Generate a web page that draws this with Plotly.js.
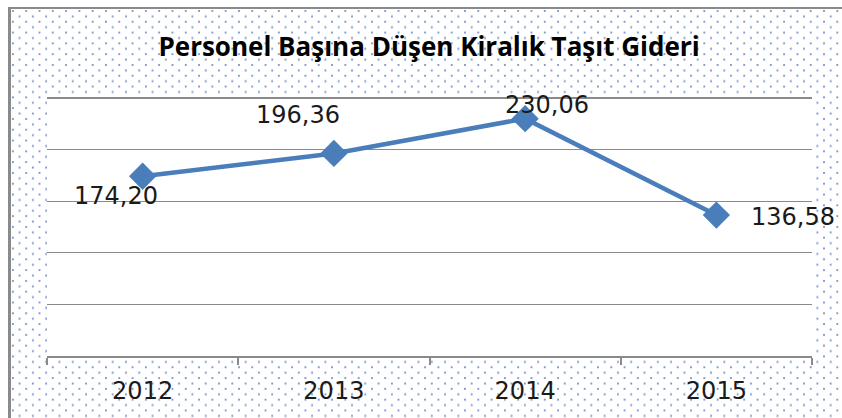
<!DOCTYPE html>
<html>
<head>
<meta charset="utf-8">
<script src="https://cdn.plot.ly/plotly-3.0.1.min.js"></script>
<style>
  html, body { margin: 0; padding: 0; width: 842px; height: 418px; background: #ffffff; overflow: hidden; }
  #frame {
    position: absolute; left: 8px; top: 7px; width: 834px; height: 411px;
    box-sizing: border-box;
    border-left: 3px solid #8a8a8a; border-top: 2px solid #8a8a8a;
    background-color: #ffffff;
    background-image:
      radial-gradient(circle at 2px 2px, #7f9fd0 0.8px, rgba(255,255,255,0) 1.4px),
      radial-gradient(circle at 8.6px 7.4px, #7f9fd0 0.8px, rgba(255,255,255,0) 1.4px);
    background-size: 13.3px 10.8px;
  }
  #chart { position: absolute; left: 0; top: 0; width: 842px; height: 418px; }
</style>
</head>
<body>
<div id="frame"></div>
<div id="chart"></div>
<script>
const titleText = 'Personel Başına Düşen Kiralık Taşıt Gideri';
const years = ['2012', '2013', '2014', '2015'];
const values = [174.20, 196.36, 230.06, 136.58];
const labelXShift = [-27, -36, 22, 77];
const labelYShift = [-20, 38, 14, -2];

const lineColor = '#4A7EBB';
const numFont = 'DejaVu Sans, Verdana, sans-serif';

function fmt(v) { return v.toFixed(2).replace('.', ','); }

const trace = {
  x: years,
  y: values,
  type: 'scatter',
  mode: 'lines+markers',
  line: { color: lineColor, width: 4.5 },
  marker: { symbol: 'diamond', size: 21, color: lineColor },
  hoverinfo: 'skip',
  cliponaxis: false
};

// category axis: annotations are placed by category index
const annotations = years.map((yr, i) => ({
  x: i, y: values[i], xref: 'x', yref: 'y',
  text: fmt(values[i]), showarrow: false,
  xshift: labelXShift[i], yshift: labelYShift[i],
  font: { family: numFont, size: 24, color: '#1a1a1a' }
}));

const layout = {
  width: 842, height: 418,
  margin: { l: 47, r: 30, t: 96, b: 62, pad: 0 },
  paper_bgcolor: 'rgba(0,0,0,0)',
  plot_bgcolor: '#ffffff',
  showlegend: false,
  title: {
    text: '<b>' + titleText + '</b>',
    font: { family: 'Open Sans, sans-serif', size: 26, color: '#000000' },
    x: 429 / 842, xanchor: 'center', xref: 'container',
    y: 1 - 47 / 418, yanchor: 'middle', yref: 'container'
  },
  xaxis: {
    type: 'category',
    range: [-0.5, 3.5],
    showgrid: false, zeroline: false,
    showline: true, linecolor: '#8a8a8a', linewidth: 2,
    ticks: 'outside', tickson: 'boundaries', ticklen: 7, tickwidth: 2, tickcolor: '#8a8a8a',
    ticklabelstandoff: 12,
    tickfont: { family: numFont, size: 24, color: '#1a1a1a' },
    fixedrange: true
  },
  yaxis: {
    range: [0, 252], dtick: 50, tick0: 0,
    showticklabels: false, ticks: '',
    showgrid: true, gridcolor: '#8a8a8a', gridwidth: 1.3,
    zeroline: false, showline: false,
    fixedrange: true
  },
  annotations: annotations
};

Plotly.newPlot('chart', [trace], layout, { displayModeBar: false, staticPlot: true });
</script>
</body>
</html>
